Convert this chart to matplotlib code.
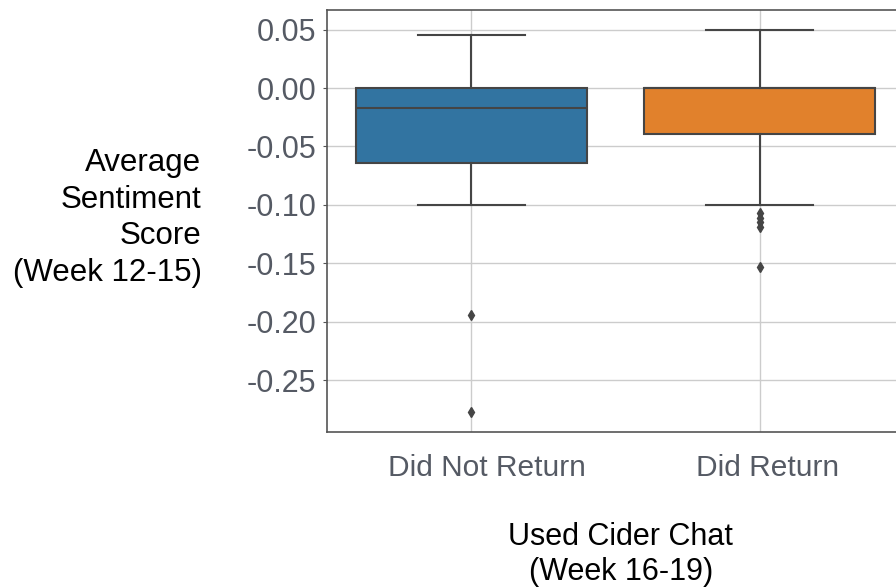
import matplotlib
matplotlib.use("Agg")
import matplotlib.pyplot as plt
from matplotlib.transforms import ScaledTranslation

plt.rcParams['font.family'] = ['Liberation Sans', 'DejaVu Sans']

# box statistics
groups = ["Did Not Return", "Did Return"]
whislo = [-0.100, -0.100]
q1 = [-0.064, -0.039]
med = [-0.0168, 0.0]
q3 = [0.0, 0.0]
whishi = [0.0457, 0.050]
fliers = [
    [-0.194, -0.277],
    [-0.107, -0.111, -0.115, -0.119, -0.1536],
]
box_colors = ["#3274a1", "#e1812c"]

yticks = [0.05, 0.0, -0.05, -0.10, -0.15, -0.20, -0.25]
ytick_labels = ["0.05", "0.00", "-0.05", "-0.10", "-0.15", "-0.20", "-0.25"]

stats = []
for i, g in enumerate(groups):
    stats.append(dict(label=g, whislo=whislo[i], q1=q1[i], med=med[i],
                      q3=q3[i], whishi=whishi[i], fliers=fliers[i]))

fig = plt.figure(figsize=(8.96, 5.87), dpi=100)
ax = fig.add_axes([327 / 896, 1 - 432 / 587, (904 - 327) / 896, (432 - 10) / 587])

line_c = "#454545"
bp = ax.bxp(stats, positions=[0, 1], widths=0.8, capwidths=0.37,
            patch_artist=True,
            boxprops=dict(edgecolor=line_c, linewidth=1.5),
            medianprops=dict(color=line_c, linewidth=1.5),
            whiskerprops=dict(color=line_c, linewidth=1.5),
            capprops=dict(color=line_c, linewidth=1.5),
            flierprops=dict(marker="d", markerfacecolor=line_c,
                            markeredgecolor=line_c, markersize=5))
for patch, c in zip(bp["boxes"], box_colors):
    patch.set_facecolor(c)

ax.set_xlim(-0.5, 1.5)
ax.set_ylim(-0.2945, 0.0668)
ax.set_yticks(yticks)
ax.set_yticklabels(ytick_labels)
ax.set_xticks([0, 1])
ax.set_xticklabels(groups)

ax.grid(True, color="#cccccc", linewidth=1.0)
ax.set_axisbelow(True)
for s in ax.spines.values():
    s.set_color("#555555")
    s.set_linewidth(1.2)

tick_c = "#555a64"
ax.tick_params(axis="y", labelsize=22, labelcolor=tick_c, length=3,
               color="#555555", pad=4.5)
ax.tick_params(axis="x", labelsize=21.5, labelcolor=tick_c, length=0, pad=16)

# category labels sit a little right of their gridlines in the reference
for lab, dx in zip(ax.get_xticklabels(), [16, 8]):
    lab.set_transform(lab.get_transform() +
                      ScaledTranslation(dx / 100, 0, fig.dpi_scale_trans))

ax.set_ylabel("Average\nSentiment\nScore\n(Week 12-15)", rotation=0,
              fontsize=22.5, ha="right", va="center",
              linespacing=1.3)
ax.yaxis.set_label_coords(-0.2175, 0.507)
ax.set_xlabel("Used Cider Chat\n(Week 16-19)", fontsize=22,
              linespacing=1.2)
ax.xaxis.set_label_coords(0.509, -0.214)
ax.xaxis.label.set_va("top")

fig.savefig("out.png", dpi=100)
